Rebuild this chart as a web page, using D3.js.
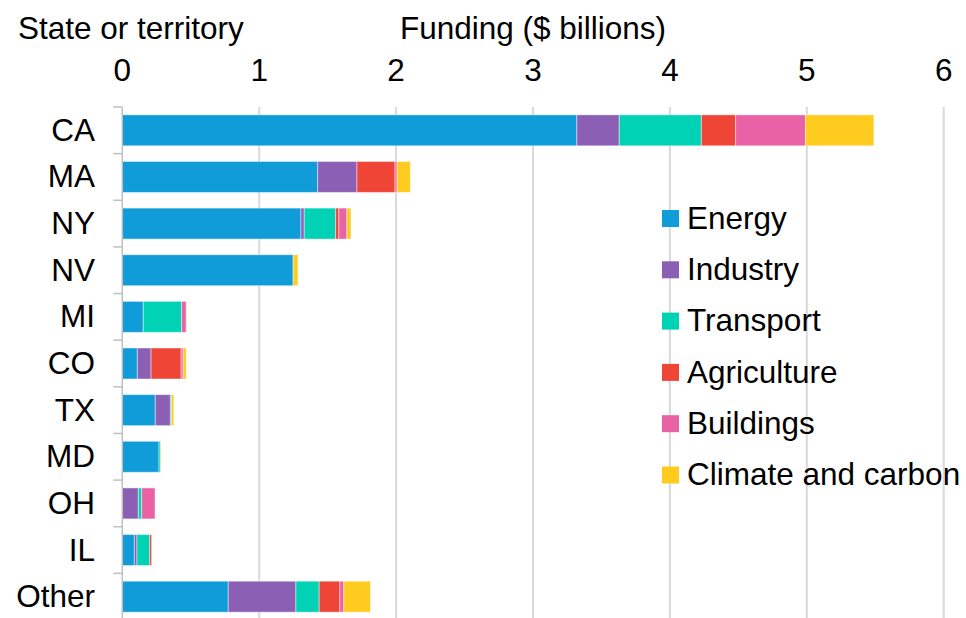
<!DOCTYPE html>
<html>
<head>
<meta charset="utf-8">
<script src="https://cdn.jsdelivr.net/npm/d3@7"></script>
<style>
  html, body { margin: 0; padding: 0; background: #fff; }
  svg { display: block; font-family: "Liberation Sans", Arial, sans-serif; }
</style>
</head>
<body>
<svg id="chart" width="966" height="618"></svg>
<script>
const categories = ["CA", "MA", "NY", "NV", "MI", "CO", "TX", "MD", "OH", "IL", "Other"];
const sectors = ["Energy", "Industry", "Transport", "Agriculture", "Buildings", "Climate and carbon"];
const energy      = [3.32, 1.427, 1.305, 1.248, 0.153, 0.110, 0.241, 0.268, 0.000, 0.088, 0.774];
const industry    = [0.31, 0.287, 0.024, 0.000, 0.000, 0.100, 0.110, 0.000, 0.117, 0.019, 0.494];
const transport   = [0.60, 0.000, 0.229, 0.000, 0.280, 0.000, 0.008, 0.012, 0.024, 0.093, 0.170];
const agriculture = [0.25, 0.278, 0.024, 0.000, 0.000, 0.220, 0.000, 0.000, 0.000, 0.014, 0.151];
const buildings   = [0.51, 0.015, 0.058, 0.000, 0.034, 0.015, 0.000, 0.000, 0.098, 0.000, 0.029];
const climate     = [0.50, 0.097, 0.030, 0.035, 0.003, 0.022, 0.017, 0.003, 0.000, 0.000, 0.195];
const xTicks = [0, 1, 2, 3, 4, 5, 6];
const colors = ["#0f9cd9", "#8b5fb4", "#00d2b6", "#ef4537", "#e962a6", "#ffcb1f"];

const seriesValues = [energy, industry, transport, agriculture, buildings, climate];
const rows = categories.map((c, i) => {
  const r = { category: c };
  sectors.forEach((s, j) => { r[s] = seriesValues[j][i]; });
  return r;
});

const svg = d3.select("#chart");
const fontSize = 31.5;

const x = d3.scaleLinear().domain([0, 6]).range([122.3, 943.7]);
const y = d3.scaleBand().domain(categories).range([107, 620]).paddingInner(0.336).paddingOuter(0.168);
const color = d3.scaleOrdinal().domain(sectors).range(colors);

// gridlines
svg.append("g").selectAll("line")
  .data(xTicks.filter(d => d > 0))
  .join("line")
  .attr("x1", d => x(d)).attr("x2", d => x(d))
  .attr("y1", 107).attr("y2", 620)
  .attr("stroke", "#d9d9d9").attr("stroke-width", 2);

// stacked bars
const stack = d3.stack().keys(sectors);
const stacked = stack(rows);
svg.append("g").selectAll("g")
  .data(stacked)
  .join("g")
  .attr("fill", d => color(d.key))
  .selectAll("rect")
  .data(d => d.filter(p => p[1] - p[0] > 0))
  .join("rect")
  .attr("x", d => x(d[0]))
  .attr("width", d => x(d[1]) - x(d[0]))
  .attr("y", d => y(d.data.category))
  .attr("height", y.bandwidth())
  .attr("stroke", "rgba(255,255,255,0.45)")
  .attr("stroke-width", 1);

// y axis line and ticks at band boundaries
const step = y.step();
const boundaries = d3.range(categories.length + 1).map(i => 107 + i * step);
svg.append("line")
  .attr("x1", x(0)).attr("x2", x(0))
  .attr("y1", 107).attr("y2", 620)
  .attr("stroke", "#bfbfbf").attr("stroke-width", 1.5);
svg.append("g").selectAll("line")
  .data(boundaries)
  .join("line")
  .attr("x1", x(0) - 9).attr("x2", x(0))
  .attr("y1", d => d).attr("y2", d => d)
  .attr("stroke", "#bfbfbf").attr("stroke-width", 1.5);

// category labels
svg.append("g").selectAll("text")
  .data(categories)
  .join("text")
  .attr("x", 95)
  .attr("y", d => y(d) + y.bandwidth() / 2 + 10.5)
  .attr("text-anchor", "end")
  .attr("font-size", fontSize)
  .attr("fill", "#000")
  .text(d => d);

// x tick labels
svg.append("g").selectAll("text")
  .data(xTicks)
  .join("text")
  .attr("x", d => x(d))
  .attr("y", 80.5)
  .attr("text-anchor", "middle")
  .attr("font-size", fontSize)
  .attr("fill", "#000")
  .text(d => d);

// titles
svg.append("text")
  .attr("x", 18).attr("y", 39)
  .attr("font-size", fontSize).attr("fill", "#000")
  .text("State or territory");
svg.append("text")
  .attr("x", x(3)).attr("y", 39)
  .attr("text-anchor", "middle")
  .attr("font-size", fontSize).attr("fill", "#000")
  .text("Funding ($ billions)");

// legend
const legend = svg.append("g").selectAll("g")
  .data(sectors)
  .join("g")
  .attr("transform", (d, i) => `translate(662, ${210 + i * 51.3})`);
legend.append("rect")
  .attr("width", 17).attr("height", 17)
  .attr("fill", d => color(d));
legend.append("text")
  .attr("x", 25).attr("y", 18.7)
  .attr("font-size", fontSize).attr("fill", "#000")
  .text(d => d);
</script>
</body>
</html>
